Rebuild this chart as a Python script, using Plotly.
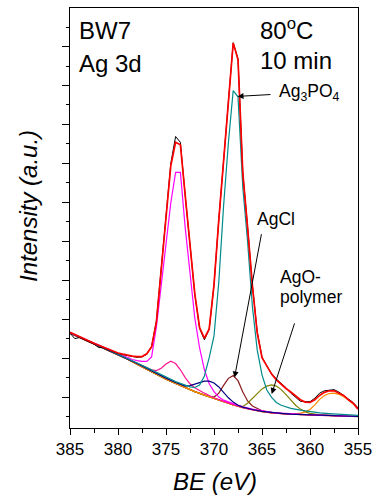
import plotly.graph_objects as go

# ---------------- data ----------------
# Shirley-type background
base_x = [385,384,383,382,381,380,379,378,377,376,375,374,373,372,371,370,369,368,367,366,365,364,363,362,361,360,359,358,357,356,355]
base_y = [2.64,2.53,2.42,2.31,2.20,2.09,1.97,1.84,1.71,1.58,1.46,1.35,1.24,1.14,1.05,0.96,0.88,0.80,0.73,0.67,0.625,0.595,0.575,0.56,0.55,0.54,0.53,0.525,0.515,0.51,0.50]

# measured spectrum (black) and fit envelope (red), 0.5 eV steps
grid_x = [385.0,384.5,384.0,383.5,383.0,382.5,382.0,381.5,381.0,380.5,380.0,379.5,379.0,378.5,378.0,377.5,377.0,376.5,376.0,375.5,375.0,374.5,374.0,373.5,373.0,372.5,372.0,371.5,371.0,370.5,370.0,369.5,369.0,368.5,368.0,367.5,367.0,366.5,366.0,365.5,365.0,364.5,364.0,363.5,363.0,362.5,362.0,361.5,361.0,360.5,360.0,359.5,359.0,358.5,358.0,357.5,357.0,356.5,356.0,355.5,355.0]
raw_y = [2.64,2.50,2.53,2.47,2.42,2.36,2.27,2.27,2.21,2.16,2.12,2.09,2.06,2.04,2.02,2.03,2.10,2.30,2.95,4.33,5.72,7.00,7.69,7.54,6.18,4.90,3.64,2.76,2.47,2.74,3.88,5.56,7.13,8.65,10.10,9.68,6.76,5.36,3.88,2.68,2.03,1.80,1.60,1.46,1.35,1.24,1.10,1.00,0.89,0.88,0.88,0.97,1.10,1.16,1.17,1.19,1.13,1.05,0.95,0.86,0.72]
fit_y = [2.66,2.60,2.55,2.48,2.43,2.38,2.33,2.28,2.22,2.17,2.13,2.10,2.07,2.05,2.04,2.04,2.11,2.29,2.93,4.32,5.71,6.94,7.54,7.48,6.18,4.91,3.65,2.78,2.51,2.75,3.88,5.55,7.13,8.64,10.09,9.67,6.76,5.35,3.86,2.65,2.01,1.80,1.59,1.44,1.32,1.22,1.13,1.03,0.93,0.87,0.86,0.93,1.04,1.12,1.16,1.16,1.11,1.04,0.93,0.84,0.69]

# Ag3PO4 3d3/2 (magenta)
mag_x = [385,384,383,382,381,380,379,378.5,378,377.5,377,376.5,376,375.5,375,374.5,374,373.5,373,372.5,372,371.5,371,370.5,370,369.5,369,368,367,366,365,364,363,362,360,358,356,355]
mag_y = [2.65,2.545,2.435,2.325,2.215,2.11,2.01,1.965,1.935,1.915,1.915,2.03,2.80,3.86,4.92,5.99,6.77,6.77,5.35,4.19,3.03,2.26,1.70,1.34,1.14,1.00,0.92,0.83,0.75,0.69,0.64,0.605,0.585,0.57,0.545,0.53,0.515,0.505]

# Ag3PO4 3d5/2 (teal)
teal_x = [385,384,383,382,381,380,379,378,377,376,375,374,373.5,373,372.5,372,371.5,371,370.5,370,369.5,369,368.5,368,367.5,367,366.5,366,365.5,365,364.5,364,363.5,363,362,361,360,359,358,357,356,355]
teal_y = [2.655,2.545,2.435,2.325,2.215,2.11,1.995,1.875,1.755,1.63,1.51,1.40,1.35,1.30,1.26,1.245,1.31,1.54,2.01,2.57,3.95,5.91,7.53,8.87,8.71,6.38,4.99,3.32,2.21,1.57,1.18,0.99,0.86,0.79,0.71,0.665,0.625,0.595,0.575,0.555,0.54,0.53]

# component at ~370.7 eV (navy)
navy_x = [385,384,383,382,381,380,379,378,377,376,375,374,373.5,373,372.5,372,371.5,371,370.5,370,369.5,369,368.5,368,367.5,367,366.5,366,365,364,363,362,360,358,355]
navy_y = [2.65,2.54,2.43,2.32,2.21,2.10,1.985,1.86,1.735,1.605,1.485,1.375,1.32,1.28,1.295,1.33,1.375,1.41,1.41,1.36,1.26,1.12,0.98,0.87,0.79,0.74,0.70,0.68,0.63,0.60,0.58,0.56,0.54,0.525,0.50]

# component at ~374.5 eV (pink)
pink_x = [378,377.5,377,376.5,376,375.5,375,374.5,374,373.5,373,372.5,372,371.5,371,370.5,370,369]
pink_y = [1.855,1.80,1.75,1.70,1.68,1.74,1.85,1.92,1.86,1.70,1.50,1.34,1.24,1.16,1.10,1.04,0.98,0.89]

# AgCl (brown)
agcl_x = [371,370.5,370,369.5,369,368.5,368,367.5,367,366.5,366,365.5,365,364.5,364,363]
agcl_y = [1.05,1.01,1.00,1.10,1.30,1.48,1.55,1.42,1.13,0.90,0.77,0.70,0.65,0.62,0.60,0.575]

# AgO-polymer (olive)
olive_x = [368,367.5,367,366.5,366,365.5,365,364.5,364,363.5,363,362.5,362,361.5,361,360.5,360,359,358]
olive_y = [0.80,0.77,0.76,0.84,0.97,1.10,1.21,1.28,1.31,1.28,1.19,1.06,0.92,0.79,0.69,0.62,0.58,0.545,0.53]

# component at ~357.7 eV (orange)
orange_x = [363,362,361.5,361,360.5,360,359.5,359,358.5,358,357.5,357,356.5,356,355.5,355]
orange_y = [0.575,0.565,0.57,0.585,0.62,0.68,0.80,0.94,1.04,1.09,1.10,1.07,1.01,0.93,0.82,0.71]

x_ticks = [385, 380, 375, 370, 365, 360, 355]


def on_background(xs, ys):
    """Extend a component over the full range with the background points."""
    lx = [bx for bx in base_x if bx > max(xs)]
    ly = [by for bx, by in zip(base_x, base_y) if bx > max(xs)]
    rx = [bx for bx in base_x if bx < min(xs)]
    ry = [by for bx, by in zip(base_x, base_y) if bx < min(xs)]
    return lx + list(xs) + rx, ly + list(ys) + ry


FONT = "Liberation Sans, Arial, sans-serif"
fig = go.Figure()


def add(xs, ys, color, width=1.2):
    fig.add_trace(go.Scatter(x=xs, y=ys, mode="lines",
                             line=dict(color=color, width=width), hoverinfo="skip"))


add(base_x, base_y, "#8B4513", 1.3)
add(*on_background(agcl_x, agcl_y), "#8B1A1A")
add(*on_background(olive_x, olive_y), "#808000")
add(*on_background(orange_x, orange_y), "#FF8C00")
add(*on_background(pink_x, pink_y), "#FF1493")
add(mag_x, mag_y, "#FF00FF")
add(navy_x, navy_y, "#000080")
add(teal_x, teal_y, "#008B8B")
add(grid_x, raw_y, "#000000", 1.0)
add(grid_x, fit_y, "#FF0000", 1.7)

W, H = 384, 501
L, R, T, B = 70, 26, 8, 73
PW, PH = W - L - R, H - T - B


def px(xp):
    return (xp - L) / PW


def py(yp):
    return (T + PH - yp) / PH


ann = []


def txt(s, xp, yp, size=24, xanchor="left"):
    ann.append(dict(text=s, x=px(xp), y=py(yp), xref="paper", yref="paper",
                    xanchor=xanchor, yanchor="middle", showarrow=False,
                    font=dict(family=FONT, size=size, color="black")))


txt("BW7", 77, 30)
txt("Ag 3d", 77, 64)
txt("80<sup>o</sup>C", 258, 29)
txt("10 min", 258, 60)
txt("Ag<sub>3</sub>PO<sub>4</sub>", 277, 93, size=17.5)
txt("AgCl", 255, 219, size=17.5)
txt("AgO-", 278, 277, size=17.5)
txt("polymer", 278, 297, size=17.5)


def arrow(hx, hy, tx, ty):
    ann.append(dict(text="", x=hx, y=hy, ax=tx, ay=ty, xref="x", yref="y",
                    axref="x", ayref="y", showarrow=True, arrowhead=2,
                    arrowsize=1.2, arrowwidth=1, arrowcolor="black", standoff=0))


arrow(367.55, 8.72, 363.96, 8.77)
arrow(367.86, 1.50, 365.03, 5.22)
arrow(363.99, 1.08, 361.56, 2.93)

ann.append(dict(text="<i>Intensity (a.u.)</i>", x=px(28), y=py(206), xref="paper", yref="paper",
                xanchor="center", yanchor="middle", textangle=-90, showarrow=False,
                font=dict(family=FONT, size=24, color="black")))
ann.append(dict(text="<i>BE (eV)</i>", x=px(215), y=py(481), xref="paper", yref="paper",
                xanchor="center", yanchor="middle", showarrow=False,
                font=dict(family=FONT, size=24, color="black")))

fig.update_layout(
    width=W, height=H, margin=dict(l=L, r=R, t=T, b=B),
    paper_bgcolor="white", plot_bgcolor="white", showlegend=False,
    annotations=ann,
    xaxis=dict(range=[385, 355], tickvals=x_ticks, ticktext=[str(v) for v in x_ticks],
               ticks="outside", ticklen=6, tickwidth=1, tickcolor="black",
               showline=True, linecolor="black", linewidth=1, mirror=True,
               showgrid=False, zeroline=False,
               tickfont=dict(family=FONT, size=17, color="black"),
               minor=dict(dtick=2.5, tick0=355, ticks="outside", ticklen=3.5,
                          tickcolor="black", showgrid=False)),
    yaxis=dict(range=[0.205, 10.99], dtick=1, tick0=0, showticklabels=False,
               ticks="outside", ticklen=7, tickwidth=1, tickcolor="black",
               showline=True, linecolor="black", linewidth=1, mirror=True,
               showgrid=False, zeroline=False,
               minor=dict(dtick=0.5, tick0=0, ticks="outside", ticklen=3.5,
                          tickcolor="black", showgrid=False)),
)

fig.write_html("out.html")
